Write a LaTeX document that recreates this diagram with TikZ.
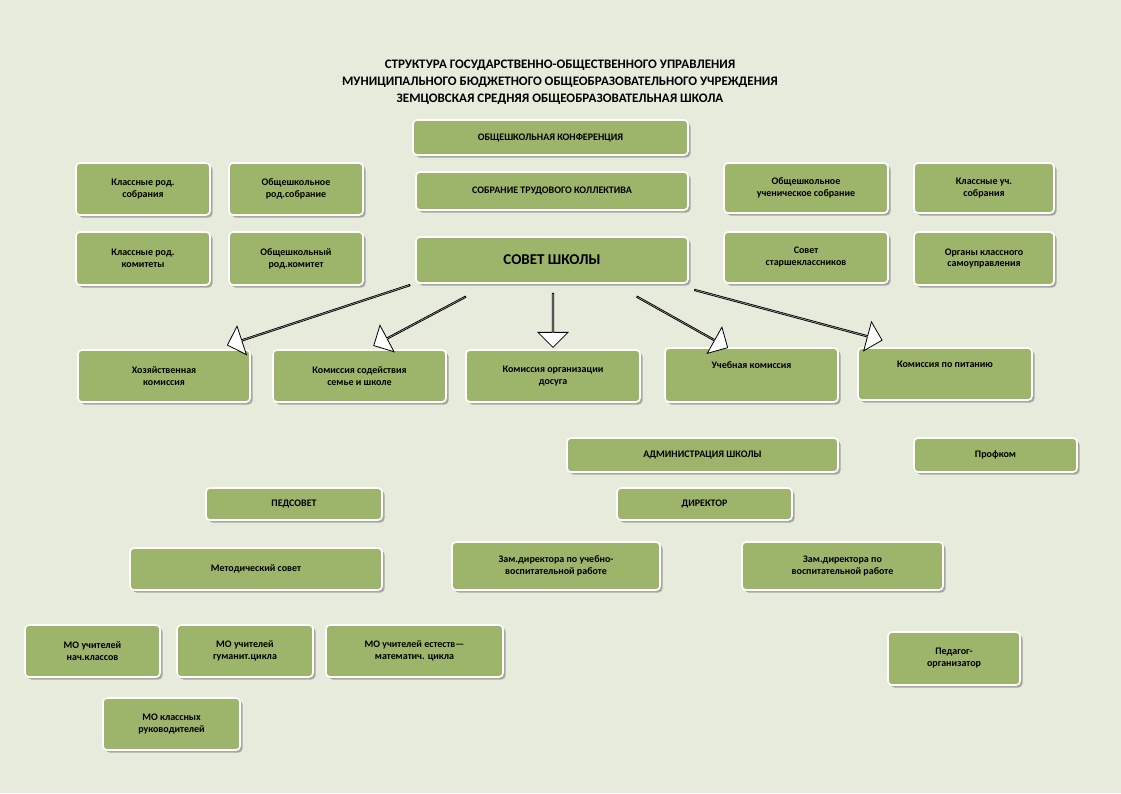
\documentclass[tikz,border=0pt]{standalone}
\usepackage{fontspec}
\setmainfont{Carlito}
\usetikzlibrary{shadows,shapes.arrows}
\definecolor{bg}{HTML}{E7EBDB}
\definecolor{boxg}{HTML}{9DB46B}
\tikzset{
 bx/.style={draw=white,line width=1.6pt,fill=boxg,rounded corners=4pt,align=center,
  font=\bfseries\fontsize{10}{12}\selectfont,inner sep=2pt,
  drop shadow={shadow xshift=2.5pt,shadow yshift=-2.5pt,fill=black!45,opacity=.7}},
 arr/.style={single arrow,draw=black,fill=white,line width=.8pt,minimum width=30pt,
  single arrow head extend=8pt,single arrow tip angle=90,inner sep=0pt}
}
\newcommand{\B}[6]{\node[bx,minimum width={#3-#1},minimum height={#4-#2}] (#5) at ({(#1+#3)/2},{-(#2+#4)/2}) {#6};}
\begin{document}
\begin{tikzpicture}[x=1pt,y=1pt]
\fill[bg] (0,0) rectangle (1121,-793);
\useasboundingbox (0,0) rectangle (1121,-793);
\node[font=\bfseries\fontsize{13}{17}\selectfont,align=center] (title) at (560,-82)
 {СТРУКТУРА ГОСУДАРСТВЕННО-ОБЩЕСТВЕННОГО УПРАВЛЕНИЯ\\МУНИЦИПАЛЬНОГО БЮДЖЕТНОГО ОБЩЕОБРАЗОВАТЕЛЬНОГО УЧРЕЖДЕНИЯ\\ЗЕМЦОВСКАЯ СРЕДНЯЯ ОБЩЕОБРАЗОВАТЕЛЬНАЯ ШКОЛА};
\B{413}{120}{688}{155}{conf}{ОБЩЕШКОЛЬНАЯ КОНФЕРЕНЦИЯ}
\B{416}{172}{688}{210}{trud}{СОБРАНИЕ ТРУДОВОГО КОЛЛЕКТИВА}
\node[bx,minimum width=272,minimum height=46,font=\bfseries\fontsize{15}{17}\selectfont] (sovet) at (552,-260) {СОВЕТ ШКОЛЫ};
\B{76}{163}{210}{215}{krs}{Классные род.\\собрания}
\B{229}{163}{363}{215}{ors}{Общешкольное\\род.собрание}
\B{76}{232}{210}{285}{krk}{Классные род.\\комитеты}
\B{229}{232}{363}{285}{ork}{Общешкольный\\род.комитет}
\B{724}{163}{888}{213}{ous}{Общешкольное\\ученическое собрание}
\B{914}{163}{1054}{213}{kus}{Классные уч.\\собрания}
\B{724}{232}{888}{283}{sst}{Совет\\старшеклассников}
\B{914}{232}{1054}{285}{oks}{Органы классного\\самоуправления}
\B{78}{350}{250}{402}{hoz}{Хозяйственная\\комиссия}
\B{273}{350}{446}{402}{sod}{Комиссия содействия\\семье и школе}
\B{466}{350}{640}{402}{dos}{Комиссия организации\\досуга}
\B{665}{348}{838}{402}{ucheb}{Учебная комиссия\\[8pt]}
\B{858}{348}{1032}{400}{pit}{Комиссия по питанию\\[8pt]}
\B{567}{438}{838}{472}{adm}{АДМИНИСТРАЦИЯ ШКОЛЫ}
\B{914}{438}{1077}{472}{prof}{Профком}
\B{206}{488}{382}{520}{ped}{ПЕДСОВЕТ}
\B{617}{488}{792}{520}{dir}{ДИРЕКТОР}
\B{130}{548}{382}{590}{met}{Методический совет}
\B{452}{542}{660}{590}{zuv}{Зам.директора по учебно-\\воспитательной работе}
\B{742}{542}{943}{590}{zv}{Зам.директора по\\воспитательной работе}
\B{25}{625}{160}{677}{mon}{МО учителей\\нач.классов}
\B{177}{625}{313}{677}{mog}{МО учителей\\гуманит.цикла}
\B{326}{625}{503}{677}{moe}{МО учителей естеств—\\математич. цикла}
\B{888}{632}{1020}{685}{porg}{Педагог-\\организатор}
\B{103}{698}{240}{750}{mokr}{МО классных\\руководителей}
\node[arr,minimum height=192,rotate=198.2] (a1) at (319,-315) {};
\node[arr,minimum height=104,rotate=208] (a2) at (420,-321) {};
\node[arr,minimum height=54,rotate=270] (a3) at (553,-320) {};
\node[arr,minimum height=104,rotate=-29.3] (a4) at (682,-322) {};
\node[arr,minimum height=194,rotate=-15] (a5) at (788,-315) {};
\end{tikzpicture}
\end{document}
